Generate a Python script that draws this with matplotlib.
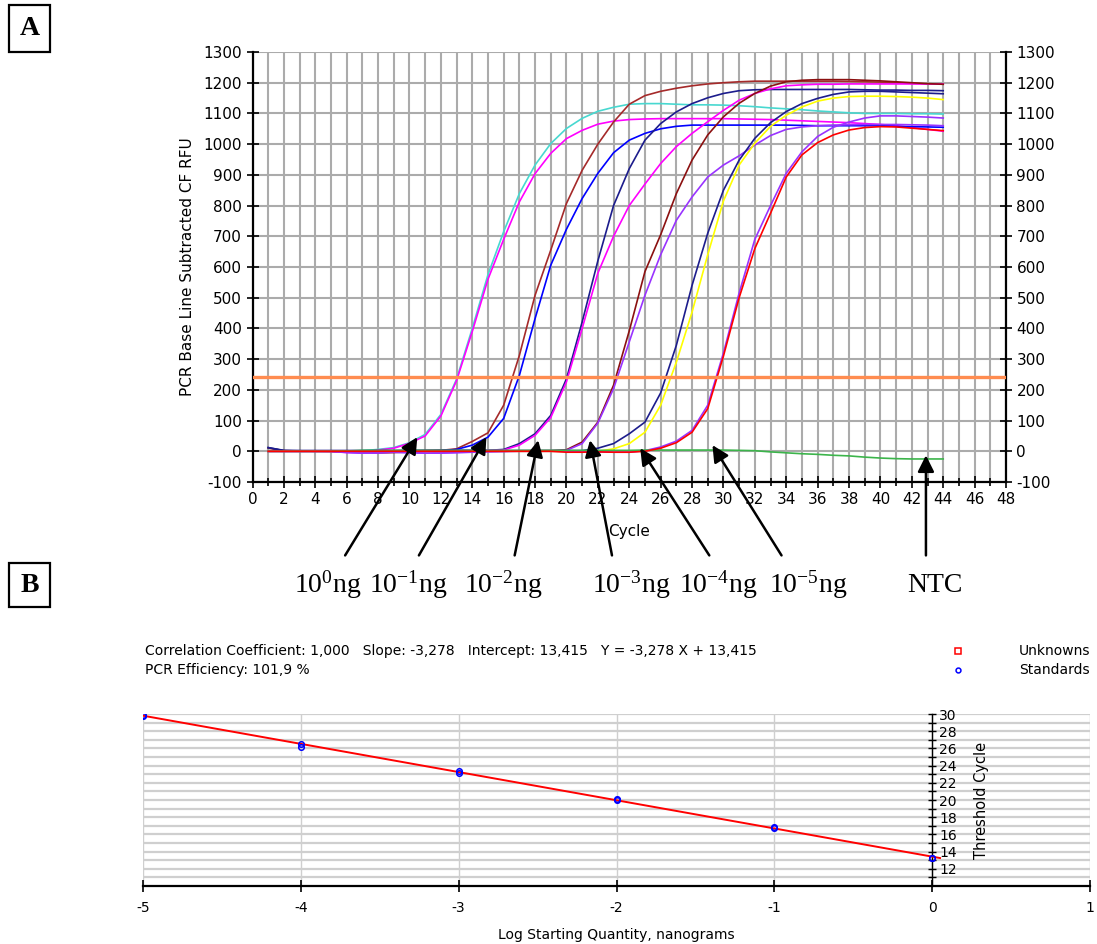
import numpy as np
import matplotlib
matplotlib.use('Agg')
import matplotlib.pyplot as plt
from matplotlib.patches import Rectangle
from matplotlib.lines import Line2D
from matplotlib.ticker import MultipleLocator

plt.rcParams['axes.unicode_minus'] = False

# ---- panel A: amplification curves (RFU per cycle) ----
cycles = list(range(1, 45))

cyan_1 = [2, 1, 0, 0, 1, 0, 2, 6, 12, 28, 55, 120, 235, 400, 575, 715, 839, 932, 1002, 1051,
          1084, 1107, 1120, 1130, 1132, 1132, 1130, 1128, 1128, 1127, 1125, 1122, 1118, 1115,
          1112, 1108, 1105, 1102, 1100, 1100, 1100, 1099, 1099, 1098]
magenta_1 = [1, 0, 0, 0, -1, -4, -3, 4, 10, 26, 50, 115, 230, 390, 560, 690, 812, 904, 970, 1018,
             1045, 1065, 1075, 1080, 1082, 1083, 1083, 1083, 1083, 1083, 1082, 1081, 1080, 1078,
             1076, 1074, 1072, 1070, 1067, 1064, 1060, 1054, 1048, 1042]
brown_2 = [10, 2, 1, 0, 0, -1, -4, -5, -3, 0, 2, 3, 8, 32, 60, 150, 312, 508, 655, 807,
           915, 1000, 1072, 1130, 1158, 1172, 1182, 1190, 1196, 1200, 1203, 1205, 1205, 1205,
           1205, 1205, 1205, 1204, 1203, 1202, 1200, 1198, 1196, 1195]
blue_2 = [0, 0, 0, 0, 0, 0, 1, 1, 0, 0, 1, 2, 6, 20, 46, 107, 247, 432, 606, 723,
          823, 905, 972, 1013, 1035, 1050, 1058, 1062, 1062, 1062, 1062, 1062, 1062, 1062,
          1061, 1060, 1060, 1060, 1060, 1060, 1058, 1057, 1056, 1055]
navy_3 = [12, 3, 2, 2, 2, 2, 2, 2, 2, 3, 3, 3, 3, 3, 3, 6, 25, 57, 117, 236,
          421, 620, 800, 920, 1013, 1067, 1105, 1132, 1151, 1165, 1174, 1177, 1178, 1178,
          1178, 1178, 1178, 1178, 1177, 1176, 1176, 1175, 1175, 1174]
magenta_3 = [0, 0, 0, 0, 0, -2, -3, -2, 0, 1, 2, 2, 2, 2, 3, 4, 20, 52, 110, 226,
             400, 580, 700, 800, 870, 937, 992, 1035, 1073, 1110, 1143, 1165, 1180, 1190,
             1193, 1195, 1195, 1196, 1196, 1196, 1196, 1196, 1196, 1196]
brown_4 = [0, 0, 0, 0, 0, 0, -2, -4, -4, -2, 0, 0, 0, 0, 0, 0, 1, 2, 2, 5,
           30, 95, 215, 392, 585, 705, 839, 948, 1030, 1089, 1133, 1165, 1189, 1203,
           1208, 1210, 1210, 1210, 1208, 1206, 1203, 1200, 1197, 1195]
purple_4 = [0, 0, 0, 0, 0, -3, -6, -5, -3, -5, -6, -5, -3, 0, 1, 1, 2, 2, 2, 3,
            25, 92, 204, 356, 508, 640, 752, 828, 893, 932, 962, 997, 1028, 1048,
            1056, 1060, 1062, 1063, 1064, 1064, 1064, 1063, 1062, 1060]
navy_5 = [12, 2, 2, 2, 2, 2, 2, 2, 2, 2, 2, 2, 2, 2, 2, 2, 2, 2, 2, 2,
          2, 10, 25, 57, 95, 190, 345, 540, 710, 850, 948, 1019, 1070, 1106,
          1132, 1149, 1162, 1170, 1172, 1172, 1170, 1168, 1166, 1164]
yellow_5 = [0, 0, 0, 0, 0, 0, 0, 0, 0, 0, 0, 0, 0, 0, 0, 0, 0, 0, 0, 0,
            0, 0, 8, 25, 62, 150, 290, 453, 640, 815, 932, 1003, 1058, 1094,
            1121, 1140, 1150, 1155, 1156, 1156, 1155, 1153, 1150, 1145]
purple_6 = [0, 0, 0, 0, 0, -4, -6, -5, -3, -4, -6, -6, -5, -3, -2, -1, 0, 0, 0, 0,
            0, -2, -3, -3, 2, 14, 33, 68, 150, 320, 515, 690, 800, 905,
            975, 1025, 1055, 1072, 1085, 1092, 1092, 1090, 1088, 1085]
green_ntc = [0, 0, 0, 0, 0, 1, 3, 3, 3, 3, 3, 3, 3, 3, 3, 3, 3, 3, 3, 3,
             3, 3, 3, 3, 4, 4, 4, 4, 4, 4, 3, 2, -2, -5, -8, -10, -13, -15, -19, -22,
             -24, -25, -25, -25]
red_6 = [0, 0, 0, 0, 0, 0, 0, 0, 0, 0, 0, 0, 0, 0, 0, 0, 0, 0, 0, -3,
         -3, -2, -3, -3, 0, 10, 28, 62, 139, 310, 500, 660, 775, 893,
         965, 1005, 1030, 1046, 1054, 1057, 1056, 1052, 1048, 1044]

threshold = 242

# arrow labels (dilution series + no template control)
dil_labels = [r'$\mathregular{10^{0}ng}$', r'$\mathregular{10^{-1}ng}$', r'$\mathregular{10^{-2}ng}$',
              r'$\mathregular{10^{-3}ng}$', r'$\mathregular{10^{-4}ng}$', r'$\mathregular{10^{-5}ng}$', 'NTC']
arrow_tip_cycle = [10.5, 14.9, 18.2, 21.5, 24.7, 29.3, 42.9]
arrow_tip_rfu = [46, 46, 36, 36, 10, 20, -13]
arrow_tail_cycle = [5.9, 10.6, 16.7, 22.9, 29.1, 33.7, 42.9]
label_cycle = [4.8, 9.9, 16.0, 24.1, 29.65, 35.4, 43.5]

# ---- panel B: standard curve ----
log_qty = [-5, -5, -4, -4, -3, -3, -2, -2, -1, -1, 0, 0]
ct_values = [29.85, 29.75, 26.5, 26.2, 23.4, 23.1, 20.1, 20.0, 16.9, 16.7, 13.3, 13.2]
corr_coef = 1.000
slope = -3.278
intercept = 13.415
efficiency = 101.9


def comma(v, n):
    return f'{v:.{n}f}'.replace('.', ',')


W, H = 1097, 944
fig = plt.figure(figsize=(W / 100, H / 100), dpi=100)
fig.patch.set_facecolor('white')

# ---------- panel A ----------
axA = fig.add_axes([252.5 / W, 1 - 482 / H, (1006 - 252.5) / W, (482 - 52) / H])
axA.set_xlim(0, 48)
axA.set_ylim(-100, 1300)

curves = [(cyan_1, '#48D8D0'), (magenta_1, '#FF00FF'), (brown_2, '#A52A2A'), (blue_2, '#0000FF'),
          (navy_3, '#1C1C8C'), (magenta_3, '#FF00FF'), (brown_4, '#8B1010'), (purple_4, '#9933FF'),
          (navy_5, '#1C1C8C'), (yellow_5, '#FFFF00'), (purple_6, '#9933FF'), (green_ntc, '#3CB44B'),
          (red_6, '#FF0000')]
for vals, col in curves:
    axA.plot(cycles, vals, color=col, lw=1.2, zorder=3)

axA.axhline(threshold, color='#FF8C50', lw=2.4, zorder=4)

axA.xaxis.set_major_locator(MultipleLocator(2))
axA.xaxis.set_minor_locator(MultipleLocator(1))
axA.yaxis.set_major_locator(MultipleLocator(100))
axA.grid(which='both', axis='x', color='#ABABAB', lw=1.5, zorder=0)
axA.grid(which='major', axis='y', color='#ABABAB', lw=1.5, zorder=0)
axA.set_axisbelow(True)
axA.spines['top'].set_visible(False)
for s in ['left', 'right', 'bottom']:
    axA.spines[s].set_linewidth(1.6)
axA.tick_params(which='both', direction='inout', length=8, width=1.2, labelsize=11,
                right=True, labelright=True)
axA.tick_params(which='minor', length=6)
axA.set_ylabel('PCR Base Line Subtracted CF RFU', fontsize=11, labelpad=6)
axA.set_xlabel('Cycle', fontsize=11, labelpad=12)

for lab, tx, ty, sx, lx in zip(dil_labels, arrow_tip_cycle, arrow_tip_rfu, arrow_tail_cycle, label_cycle):
    axA.annotate('', xy=(tx, ty), xytext=(sx, -339), xycoords='data', textcoords='data',
                 annotation_clip=False,
                 arrowprops=dict(arrowstyle='-|>,head_length=0.9,head_width=0.45',
                                 mutation_scale=11, color='black', lw=1.8, shrinkA=0, shrinkB=0),
                 zorder=6)
    axA.text(lx, -459, lab, ha='center', va='baseline', fontsize=20,
             family='Liberation Serif', clip_on=False)

# boxed panel letters
for letter, top, bot in [('A', 5, 52), ('B', 563, 607)]:
    fig.add_artist(Rectangle((9 / W, 1 - bot / H), 41 / W, (bot - top) / H,
                             transform=fig.transFigure, fill=False, lw=1.6, ec='black'))
    fig.text(29.5 / W, 1 - (top + bot) / 2 / H, letter, ha='center', va='center',
             fontsize=20, fontweight='bold', family='Liberation Serif')

# ---------- panel B ----------
axB = fig.add_axes([143 / W, 1 - 886 / H, (1090 - 143) / W, (886 - 714) / H])
axB.set_xlim(-5, 1)
axB.set_ylim(10, 30)

fit_x = np.array([min(log_qty), max(log_qty) + 0.05])
axB.plot(fit_x, slope * fit_x + intercept, color='#FF0000', lw=1.4, zorder=3)
axB.plot(log_qty, ct_values, linestyle='none', marker='o', ms=4, mfc='none',
         mec='#0000FF', mew=1.1, zorder=4)

axB.xaxis.set_major_locator(MultipleLocator(1))
axB.set_yticks(range(12, 31, 2))
axB.set_yticks(range(11, 30, 2), minor=True)
axB.grid(which='major', axis='x', color='#CFCFCF', lw=1.0)
axB.grid(which='both', axis='y', color='#CFCFCF', lw=1.6)
axB.set_axisbelow(True)
axB.spines['top'].set_visible(False)
axB.spines['left'].set_visible(False)
axB.spines['right'].set_position(('data', 0))
axB.spines['right'].set_linewidth(1.0)
axB.spines['bottom'].set_linewidth(1.6)
axB.yaxis.tick_right()
axB.yaxis.set_label_position('right')
axB.tick_params(axis='y', which='both', direction='inout', length=6, width=1.0,
                labelsize=10, pad=2)
axB.tick_params(axis='x', direction='inout', length=9, width=1.2, labelsize=10, pad=6)
axB.set_ylabel('Threshold Cycle', fontsize=10.5, labelpad=12)
axB.set_xlabel('Log Starting Quantity, nanograms', fontsize=10, labelpad=10)

info1 = (f'Correlation Coefficient: {comma(corr_coef, 3)}   Slope: {comma(slope, 3)}   '
         f'Intercept: {comma(intercept, 3)}   Y = {comma(slope, 3)} X + {comma(intercept, 3)}')
info2 = f'PCR Efficiency: {comma(efficiency, 1)} %'
fig.text(145 / W, 1 - 651 / H, info1, fontsize=10, va='center')
fig.text(145 / W, 1 - 670 / H, info2, fontsize=10, va='center')

fig.add_artist(Line2D([958 / W], [1 - 651 / H], transform=fig.transFigure, marker='s', ms=4,
                      mfc='none', mec='#FF0000', mew=1.1, linestyle='none'))
fig.add_artist(Line2D([958 / W], [1 - 670 / H], transform=fig.transFigure, marker='o', ms=3.5,
                      mfc='none', mec='#0000FF', mew=1.1, linestyle='none'))
fig.text(1019 / W, 1 - 651 / H, 'Unknowns', fontsize=10, va='center')
fig.text(1019 / W, 1 - 670 / H, 'Standards', fontsize=10, va='center')

fig.savefig('out.png', dpi=100)
